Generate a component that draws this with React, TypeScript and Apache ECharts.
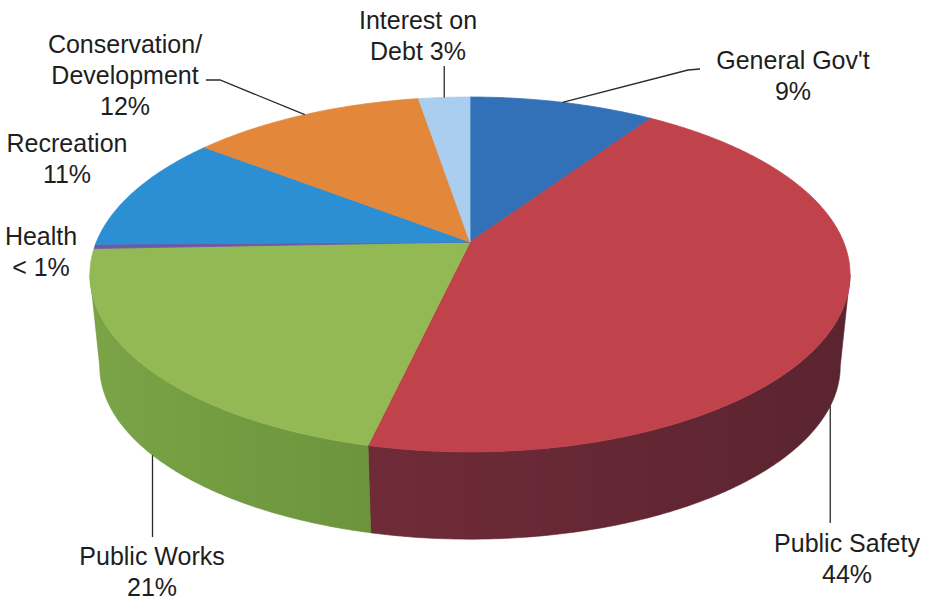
import React, { useEffect, useRef } from "react";
import * as echarts from "echarts";

// ---- data ----
const categories = [
  "General Gov't",
  "Public Safety",
  "Public Works",
  "Health",
  "Recreation",
  "Conservation/Development",
  "Interest on Debt",
];
const shares = [9.4, 44.2, 20.8, 0.4, 10.7, 11.9, 2.6];
const labelTexts = [
  "General Gov't\n9%",
  "Public Safety\n44%",
  "Public Works\n21%",
  "Health\n< 1%",
  "Recreation\n11%",
  "Conservation/\nDevelopment\n12%",
  "Interest on\nDebt 3%",
];

// ---- styles / layout ----
const topColors = ["#3270b8", "#c0434c", "#93b955", "#6b5aa6", "#2c8fd4", "#e3883a", "#a9cef0"];
const sideColors = [
  ["#25558f", "#1d4573"],
  ["#702b38", "#5a2430"],
  ["#7aa446", "#6c943d"],
  ["#4f4180", "#443870"],
  ["#1f6ea6", "#1a5f90"],
  ["#b8692a", "#a35c24"],
  ["#83a7c8", "#7496b5"],
];
// label block centre, leader end points (layout only), anchor: which rim the leader starts from
const labelLayout: { x: number; y: number; leader: number[][] | null; rim: "top" | "bottom"; vertical?: number }[] = [
  { x: 793, y: 75, leader: [[688, 70], [700, 69]], rim: "top" },
  { x: 847, y: 558, leader: null, rim: "bottom", vertical: 523 },
  { x: 152, y: 571, leader: null, rim: "bottom", vertical: 537 },
  { x: 41, y: 251, leader: [], rim: "top" },
  { x: 67, y: 158, leader: [], rim: "top" },
  { x: 125, y: 75, leader: [[220, 80], [206, 80]], rim: "top" },
  { x: 418, y: 35, leader: null, rim: "top", vertical: 66 },
];

const CX = 470;
const K = 0.183;
const TOP = { cy: 242, S: 373.6, T: 171.5 };
const BOT = { cy: 334.5, S: 364, T: 167.2 };
const SIL_R = Math.acos(-K);
const SIL_L = 2 * Math.PI - SIL_R;

const total = shares.reduce((a, b) => a + b, 0);
const cum = shares.map((_, i) => shares.slice(0, i).reduce((a, b) => a + b, 0));

function proj(theta: number, f: { cy: number; S: number; T: number }): number[] {
  const u = Math.sin(theta);
  const v = -Math.cos(theta);
  const d = 1 - K * v;
  return [CX + (f.S * u) / d, f.cy + (f.T * v) / d];
}

function angles(i: number, val: number) {
  const a0 = (2 * Math.PI * cum[i]) / total;
  const a1 = (2 * Math.PI * (cum[i] + val)) / total;
  return [a0, a1];
}

export default function App() {
  const ref = useRef<HTMLDivElement>(null);
  useEffect(() => {
    if (!ref.current) return;
    const chart = echarts.init(ref.current, undefined, { renderer: "svg" });
    const data = shares.map((v, i) => ({ name: categories[i], value: v }));
    chart.setOption({
      animation: false,
      backgroundColor: "#ffffff",
      series: [
        {
          type: "custom",
          name: "sides",
          coordinateSystem: "none",
          z: 1,
          silent: true,
          data,
          renderItem: (params: any, api: any) => {
            const i = params.dataIndex;
            const [a0, a1] = angles(i, api.value(0));
            const lo = Math.max(a0, SIL_R);
            const hi = Math.min(a1, SIL_L);
            if (hi <= lo) return { type: "group", children: [] };
            const n = Math.max(2, Math.ceil((hi - lo) / 0.01));
            const pts: number[][] = [];
            for (let j = 0; j <= n; j++) pts.push(proj(lo + ((hi - lo) * j) / n, TOP));
            for (let j = n; j >= 0; j--) pts.push(proj(lo + ((hi - lo) * j) / n, BOT));
            return {
              type: "polygon",
              shape: { points: pts },
              style: {
                fill: {
                  type: "linear",
                  x: 0,
                  y: 0,
                  x2: 1,
                  y2: 0,
                  colorStops: [
                    { offset: 0, color: sideColors[i][0] },
                    { offset: 1, color: sideColors[i][1] },
                  ],
                },
                stroke: sideColors[i][1],
                lineWidth: 0.6,
              },
            };
          },
        },
        {
          type: "custom",
          name: "tops",
          coordinateSystem: "none",
          z: 2,
          silent: true,
          data,
          renderItem: (params: any, api: any) => {
            const i = params.dataIndex;
            const [a0, a1] = angles(i, api.value(0));
            const n = Math.max(2, Math.ceil((a1 - a0) / 0.01));
            const pts: number[][] = [[CX, TOP.cy]];
            for (let j = 0; j <= n; j++) pts.push(proj(a0 + ((a1 - a0) * j) / n, TOP));
            return {
              type: "polygon",
              shape: { points: pts },
              style: { fill: topColors[i], stroke: topColors[i], lineWidth: 0.8 },
            };
          },
        },
        {
          type: "custom",
          name: "labels",
          coordinateSystem: "none",
          z: 3,
          silent: true,
          data,
          renderItem: (params: any, api: any) => {
            const i = params.dataIndex;
            const [a0, a1] = angles(i, api.value(0));
            const mid = (a0 + a1) / 2;
            const L = labelLayout[i];
            const children: any[] = [];
            const anchor = proj(mid, L.rim === "top" ? TOP : BOT);
            let line: number[][] | null = null;
            if (L.vertical !== undefined) {
              line = [anchor, [anchor[0], L.vertical]];
            } else if (L.leader && L.leader.length) {
              line = [anchor, ...L.leader];
            }
            if (line) {
              children.push({
                type: "polyline",
                shape: { points: line },
                style: { stroke: "#2a2a2a", lineWidth: 1.3, fill: null },
              });
            }
            children.push({
              type: "text",
              x: L.x,
              y: L.y,
              style: {
                text: labelTexts[i],
                fill: "#1e1e1e",
                fontSize: 25,
                fontFamily: '"Liberation Sans", Arial, sans-serif',
                align: "center",
                verticalAlign: "middle",
                lineHeight: 31,
              },
            });
            return { type: "group", children };
          },
        },
      ],
    });
    return () => chart.dispose();
  }, []);
  return (
    <div
      ref={ref}
      style={{ position: "absolute", left: 0, top: 0, width: 932, height: 602 }}
    />
  );
}
